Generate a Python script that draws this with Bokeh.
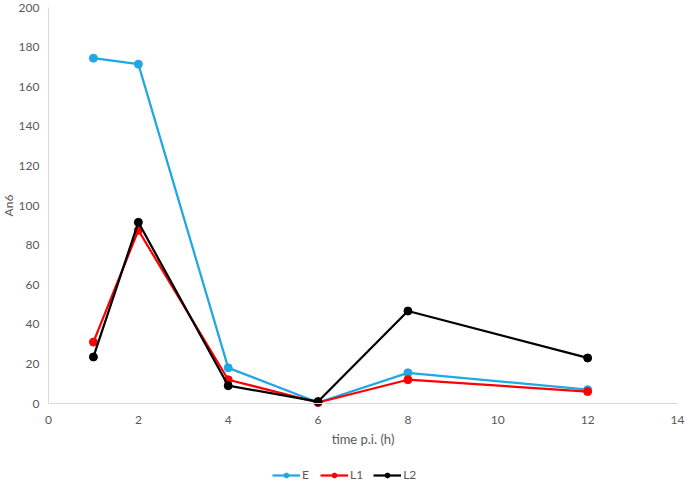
from bokeh.plotting import figure
from bokeh.models import Range1d, Legend, LegendItem, FixedTicker
from bokeh.embed import file_html
from bokeh.resources import INLINE

x = [1, 2, 4, 6, 8, 12]
e_vals = [174.4, 171.4, 18.0, 0.5, 15.5, 7.0]
l1_vals = [31.0, 87.5, 12.0, 0.5, 12.0, 6.0]
l2_vals = [23.5, 91.5, 9.0, 1.0, 46.7, 23.0]
series_names = ["E", "L1", "L2"]
colors = ["#1FA8E1", "#FF0000", "#000000"]
x_ticks = [0, 2, 4, 6, 8, 10, 12, 14]
y_ticks = [0, 20, 40, 60, 80, 100, 120, 140, 160, 180, 200]

FONT = "Lato"
GRAY = "#595959"

# the frame covers the whole canvas; both axes sit at fixed data positions
PX_X = 629 / 14.0
PX_Y = 396 / 200.0
p = figure(frame_width=685, frame_height=482, output_backend="svg", toolbar_location=None,
           x_range=Range1d(-48 / PX_X, 637 / PX_X),
           y_range=Range1d(-79 / PX_Y, 200 + 7 / PX_Y),
           min_border_left=0, min_border_right=0, min_border_top=0, min_border_bottom=0)
p.outline_line_color = None
p.xgrid.grid_line_color = None
p.ygrid.grid_line_color = None

items = []
for name, vals, c in zip(series_names, [e_vals, l1_vals, l2_vals], colors):
    r1 = p.line(x, vals, line_color=c, line_width=2.25)
    r2 = p.scatter(x, vals, size=8, fill_color=c, line_color=c)
    items.append(LegendItem(label=name, renderers=[r1, r2]))

for ax in (p.xaxis[0], p.yaxis[0]):
    ax.axis_line_color = "#D9D9D9"
    ax.axis_line_width = 1
    ax.major_tick_line_color = None
    ax.minor_tick_line_color = None
    ax.major_tick_out = 0
    ax.major_tick_in = 0
    ax.minor_tick_out = 0
    ax.minor_tick_in = 0
    ax.major_label_text_color = GRAY
    ax.major_label_text_font = FONT
    ax.major_label_text_font_size = "12px"
    ax.axis_label_text_color = GRAY
    ax.axis_label_text_font = FONT
    ax.axis_label_text_font_style = "normal"

p.xaxis[0].axis_label_text_font_size = "13px"
p.yaxis[0].axis_label_text_font_size = "12px"
p.xaxis[0].ticker = FixedTicker(ticks=x_ticks)
p.yaxis[0].ticker = FixedTicker(ticks=y_ticks)
p.xaxis[0].axis_label = "time p.i. (h)"
p.yaxis[0].axis_label = "An6"
p.xaxis[0].fixed_location = 0
p.yaxis[0].fixed_location = 0
p.xaxis[0].bounds = (0, 14)
p.yaxis[0].bounds = (0, 200)
p.xaxis[0].major_label_standoff = 12
p.yaxis[0].major_label_standoff = 9
p.xaxis[0].axis_label_standoff = 4
p.yaxis[0].axis_label_standoff = 0

legend = Legend(items=items, orientation="horizontal", location=(272, 0),
                label_text_font=FONT, label_text_font_size="12px", label_text_color=GRAY,
                glyph_width=28, glyph_height=12, spacing=10, label_standoff=2,
                label_width=8, label_height=12,
                border_line_color=None, background_fill_alpha=0, padding=0, margin=0)
p.add_layout(legend, "center")

open("out.html", "w").write(file_html(p, INLINE))
